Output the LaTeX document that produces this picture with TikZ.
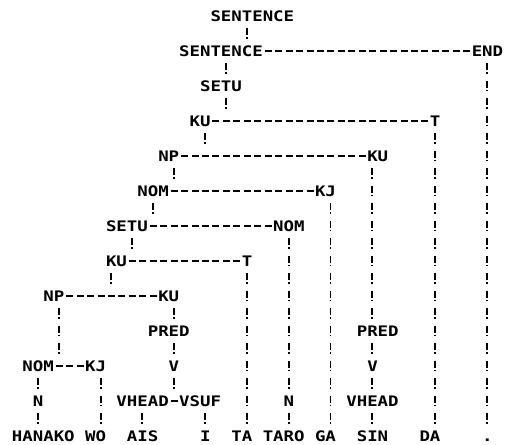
\documentclass[tikz,border=0pt]{standalone}
\usepackage{fontspec}
\usepackage{graphicx}
\newfontfamily\tfont{DejaVu Sans Mono}
\newcommand\cells[1]{\cellsloop#1\relax}
\def\cellsloop#1{\ifx\relax#1\else\makebox[10.45pt]{\scalebox{1.2}[1]{#1}}\expandafter\cellsloop\fi}
\newcommand\gp[2]{({11.8+10.45*(#1)},{16+17.5*(#2)})}
\tikzset{
  lbl/.style={font=\tfont\bfseries\fontsize{14.5}{14.5}\selectfont, inner sep=0pt,
    text height=10.5pt, text depth=0pt, anchor=west},
  hdash/.style={line width=1.8pt, dash pattern=on 7pt off 3.45pt, dash phase=8.75pt},
  bang/.style={line width=1.9pt, dash pattern=on 7pt off 2pt on 1.6pt off 6.9pt, dash phase=10.6pt}
}
\newcommand\vc[3]{\coordinate (vc) at ([xshift={#2*10.45+5.225}]#1.south west);
  \draw[bang] (vc) -- (vc |- #3);}
\begin{document}
\begin{tikzpicture}[x=1pt,y=-1pt]
\useasboundingbox[fill=white] (0,0) rectangle (505,444);
% row 0
\node[lbl] (s0) at \gp{19}{0} {\cells{SENTENCE}};
% row 2
\node[lbl] (s2) at \gp{16}{2} {\cells{SENTENCE}};
\node[lbl] (end2) at \gp{44}{2} {\cells{END}};
% row 4
\node[lbl] (setu4) at \gp{18}{4} {\cells{SETU}};
% row 6
\node[lbl] (ku6) at \gp{17}{6} {\cells{KU}};
\node[lbl] (t6) at \gp{40}{6} {\cells{T}};
% row 8
\node[lbl] (np8) at \gp{14}{8} {\cells{NP}};
\node[lbl] (ku8) at \gp{34}{8} {\cells{KU}};
% row 10
\node[lbl] (nom10) at \gp{12}{10} {\cells{NOM}};
\node[lbl] (kj10) at \gp{29}{10} {\cells{KJ}};
% row 12
\node[lbl] (setu12) at \gp{9}{12} {\cells{SETU}};
\node[lbl] (nom12) at \gp{25}{12} {\cells{NOM}};
% row 14
\node[lbl] (ku14) at \gp{9}{14} {\cells{KU}};
\node[lbl] (t14) at \gp{22}{14} {\cells{T}};
% row 16
\node[lbl] (np16) at \gp{3}{16} {\cells{NP}};
\node[lbl] (ku16) at \gp{14}{16} {\cells{KU}};
% row 18
\node[lbl] (pred18) at \gp{13}{18} {\cells{PRED}};
\node[lbl] (predR) at \gp{33}{18} {\cells{PRED}};
% row 20
\node[lbl] (nom20) at \gp{1}{20} {\cells{NOM}};
\node[lbl] (kj20) at \gp{7}{20} {\cells{KJ}};
\node[lbl] (v20) at \gp{15}{20} {\cells{V}};
\node[lbl] (vR) at \gp{34}{20} {\cells{V}};
% row 22
\node[lbl] (n22) at \gp{2}{22} {\cells{N}};
\node[lbl] (vhead) at \gp{10}{22} {\cells{VHEAD}};
\node[lbl] (vsuf) at \gp{16}{22} {\cells{VSUF}};
\node[lbl] (nR) at \gp{26}{22} {\cells{N}};
\node[lbl] (vheadR) at \gp{32}{22} {\cells{VHEAD}};
% row 24
\node[lbl] (hanako) at \gp{0}{24} {\cells{HANAKO}};
\node[lbl] (wo) at \gp{7}{24} {\cells{WO}};
\node[lbl] (ais) at \gp{11}{24} {\cells{AIS}};
\node[lbl] (i24) at \gp{18}{24} {\cells{I}};
\node[lbl] (ta) at \gp{21}{24} {\cells{TA}};
\node[lbl] (taro) at \gp{24}{24} {\cells{TARO}};
\node[lbl] (ga) at \gp{29}{24} {\cells{GA}};
\node[lbl] (sin) at \gp{33}{24} {\cells{SIN}};
\node[lbl] (da) at \gp{39}{24} {\cells{DA}};
\node[lbl] (dot) at \gp{45}{24} {\cells{.}};
% horizontal connectors
\draw[hdash] (s2.east) -- (end2.west);
\draw[hdash] (ku6.east) -- (t6.west);
\draw[hdash] (np8.east) -- (ku8.west);
\draw[hdash] (nom10.east) -- (kj10.west);
\draw[hdash] (setu12.east) -- (nom12.west);
\draw[hdash] (ku14.east) -- (t14.west);
\draw[hdash] (np16.east) -- (ku16.west);
\draw[hdash] (nom20.east) -- (kj20.west);
\draw[hdash] (vhead.east) -- (vsuf.west);
% vertical connectors
\vc{s0}{3}{s2.north}
\vc{s2}{4}{setu4.north}
\vc{setu4}{2}{ku6.north}
\vc{ku6}{1}{np8.north}
\vc{np8}{1}{nom10.north}
\vc{nom10}{1}{setu12.north}
\vc{setu12}{2}{ku14.north}
\vc{ku14}{0}{np16.north}
\vc{np16}{1}{nom20.north}
\vc{ku16}{1}{pred18.north}
\vc{pred18}{2}{v20.north}
\vc{v20}{0}{vhead.north}
\vc{nom20}{1}{n22.north}
\vc{kj20}{1}{wo.north}
\vc{n22}{0}{hanako.north}
\vc{vhead}{2}{ais.north}
\vc{vsuf}{2}{i24.north}
\vc{end2}{1}{dot.north}
\vc{t6}{0}{da.north}
\vc{ku8}{0}{predR.north}
\vc{predR}{1}{vR.north}
\vc{vR}{0}{vheadR.north}
\vc{vheadR}{2}{sin.north}
\vc{kj10}{1}{ga.north}
\vc{nom12}{1}{nR.north}
\vc{nR}{0}{taro.north}
\vc{t14}{0}{ta.north}
\end{tikzpicture}
\end{document}
